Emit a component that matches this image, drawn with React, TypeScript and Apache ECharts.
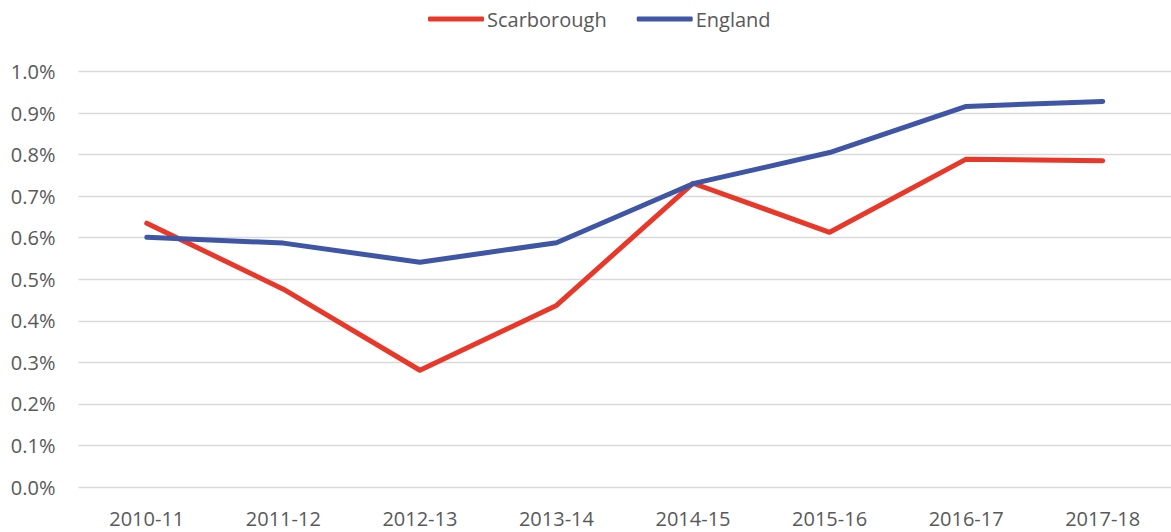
import React, { useEffect, useRef } from "react";
import * as echarts from "echarts";

const categories = ["2010-11", "2011-12", "2012-13", "2013-14", "2014-15", "2015-16", "2016-17", "2017-18"];
const scarborough = [0.00635, 0.00476, 0.00281, 0.00437, 0.00731, 0.00613, 0.00789, 0.00785];
const england = [0.00601, 0.00587, 0.00541, 0.00588, 0.0073, 0.00805, 0.00916, 0.00928];

export default function App() {
  const ref = useRef<HTMLDivElement>(null);
  useEffect(() => {
    document.body.style.margin = "0";
    const chart = echarts.init(ref.current!, null, { renderer: "svg" });
    const font = "'Open Sans', sans-serif";
    chart.setOption({
      animation: false,
      textStyle: { fontFamily: font },
      legend: {
        top: 4,
        left: 423,
        itemWidth: 56,
        itemHeight: 5,
        itemGap: 30,
        icon: "roundRect",
        textStyle: { color: "#595959", fontSize: 20, fontFamily: font, padding: [0, 0, 0, -2] },
        data: ["Scarborough", "England"],
      },
      grid: { left: 78.5, right: -3.5, top: 71.5, bottom: 45, containLabel: false },
      xAxis: {
        type: "category",
        data: categories,
        boundaryGap: true,
        axisLine: { show: false },
        axisTick: { show: false },
        axisLabel: { color: "#595959", fontSize: 20, margin: 21, fontFamily: font },
      },
      yAxis: {
        type: "value",
        min: 0,
        max: 0.01,
        interval: 0.001,
        axisLine: { show: false },
        axisTick: { show: false },
        splitLine: { lineStyle: { color: "#D9D9D9", width: 1.3 } },
        axisLabel: {
          color: "#595959",
          fontSize: 20,
          margin: 23,
          fontFamily: font,
          formatter: (v: number) => (v * 100).toFixed(1) + "%",
        },
      },
      series: [
        {
          name: "Scarborough",
          type: "line",
          data: scarborough,
          symbol: "none",
          itemStyle: { color: "#E8382A" },
          lineStyle: { color: "#E8382A", width: 5, cap: "round", join: "round" },
        },
        {
          name: "England",
          type: "line",
          data: england,
          symbol: "none",
          itemStyle: { color: "#3F56A6" },
          lineStyle: { color: "#3F56A6", width: 5, cap: "round", join: "round" },
        },
      ],
    });
    return () => chart.dispose();
  }, []);
  return <div ref={ref} style={{ width: 1171, height: 532 }} />;
}
